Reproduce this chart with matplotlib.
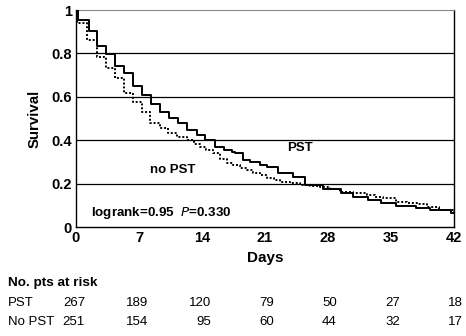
import matplotlib
matplotlib.use("Agg")
import matplotlib.pyplot as plt
import matplotlib.transforms as mtransforms

plt.rcParams['font.family'] = ['Liberation Sans', 'DejaVu Sans']

# Kaplan-Meier steps
pst_days = [0, 0.2, 1.4, 2.3, 3.3, 4.3, 5.3, 6.3, 7.3, 8.3, 9.3, 10.3, 11.3, 12.3,
            13.4, 14.3, 15.4, 16.4, 17.3, 17.7, 18.6, 19.3, 20.4, 21.2, 22.4, 24.1,
            25.4, 27.4, 29.5, 30.8, 32.4, 33.9, 35.6, 37.8, 39.3, 41.7, 42]
pst_surv = [1, 0.954, 0.903, 0.836, 0.796, 0.742, 0.711, 0.65, 0.608, 0.565, 0.531,
            0.502, 0.479, 0.447, 0.424, 0.40, 0.37, 0.355, 0.346, 0.34, 0.31, 0.30,
            0.286, 0.277, 0.248, 0.23, 0.196, 0.175, 0.158, 0.14, 0.124, 0.11, 0.096,
            0.088, 0.077, 0.063, 0.063]

nopst_days = [0, 0.15, 1.2, 2.3, 3.3, 4.3, 5.3, 6.3, 7.3, 8.2, 9.3, 10.2, 11.2, 12.3,
              13.1, 13.8, 14.5, 15.2, 16.0, 16.8, 17.5, 18.2, 19.0, 19.7, 20.4, 21.2,
              22.0, 22.7, 23.8, 24.9, 26.0, 27.1, 28.2, 29.3, 30.8, 32.3, 33.2, 34.1,
              35.6, 36.8, 37.9, 39.0, 40.4, 41.9, 42]
nopst_surv = [1, 0.939, 0.862, 0.785, 0.731, 0.685, 0.616, 0.575, 0.531, 0.482, 0.456,
              0.435, 0.416, 0.40, 0.385, 0.37, 0.355, 0.34, 0.315, 0.295, 0.285, 0.272,
              0.262, 0.25, 0.24, 0.228, 0.218, 0.21, 0.202, 0.196, 0.19, 0.184, 0.175,
              0.164, 0.155, 0.146, 0.14, 0.133, 0.117, 0.112, 0.108, 0.094, 0.078,
              0.07, 0.07]

risk_days = [0, 7, 14, 21, 28, 35, 42]
risk_pst = [267, 189, 120, 79, 50, 27, 18]
risk_nopst = [251, 154, 95, 60, 44, 32, 17]

fig = plt.figure(figsize=(4.66, 3.36), dpi=100)
ax = fig.add_axes([0.163, 0.324, 0.811, 0.646])

for y in [0.2, 0.4, 0.6, 0.8]:
    ax.axhline(y, color='black', lw=0.9, zorder=1)

ax.step(pst_days, pst_surv, where='post', color='black', lw=1.4, zorder=3)
ax.step(nopst_days, nopst_surv, where='post', color='black', lw=1.4,
        linestyle=(0, (1, 1)), zorder=2)

ax.set_xlim(0, 42)
ax.set_ylim(0, 1)
ax.set_xticks(risk_days)
ax.set_yticks([0, 0.2, 0.4, 0.6, 0.8, 1])
ax.set_yticklabels(['0', '0.2', '0.4', '0.6', '0.8', '1'])
ax.tick_params(length=0, labelsize=10.5)
ax.tick_params(axis='x', pad=3)
ax.tick_params(axis='y', pad=3)
for lab in ax.get_xticklabels() + ax.get_yticklabels():
    lab.set_fontweight('bold')

ax.spines['top'].set_color('#888888')
for s in ['left', 'bottom', 'right']:
    ax.spines[s].set_color('black')
    ax.spines[s].set_linewidth(1.0)

ax.set_xlabel('Days', fontsize=11, fontweight='bold', labelpad=4)
ax.set_ylabel('Survival', fontsize=10.8, fontweight='bold', labelpad=7)

ax.text(24.9, 0.365, 'PST', fontsize=9.5, fontweight='bold', ha='center', va='center')
ax.text(10.7, 0.263, 'no PST', fontsize=9.5, fontweight='bold', ha='center', va='center')
ax.text(1.7, 0.065, 'logrank=0.95  $\\mathit{P}$=0.330', fontsize=9.6,
        fontweight='bold', ha='left', va='center')

# risk table below the axes
trans = mtransforms.blended_transform_factory(ax.transData, fig.transFigure)
fig.text(8 / 466, 1 - 283 / 336, 'No. pts at risk', fontsize=9.7, fontweight='bold',
         ha='left', va='center')
fig.text(8 / 466, 1 - 303 / 336, 'PST', fontsize=9.5, ha='left', va='center')
fig.text(8 / 466, 1 - 322 / 336, 'No PST', fontsize=9.5, ha='left', va='center')
for d, a, b in zip(risk_days, risk_pst, risk_nopst):
    ax.text(d + 1.0, 1 - 303 / 336, str(a), transform=trans, fontsize=9.5,
            ha='right', va='center', clip_on=False)
    ax.text(d + 1.0, 1 - 322 / 336, str(b), transform=trans, fontsize=9.5,
            ha='right', va='center', clip_on=False)

fig.savefig('out.png', dpi=100)
